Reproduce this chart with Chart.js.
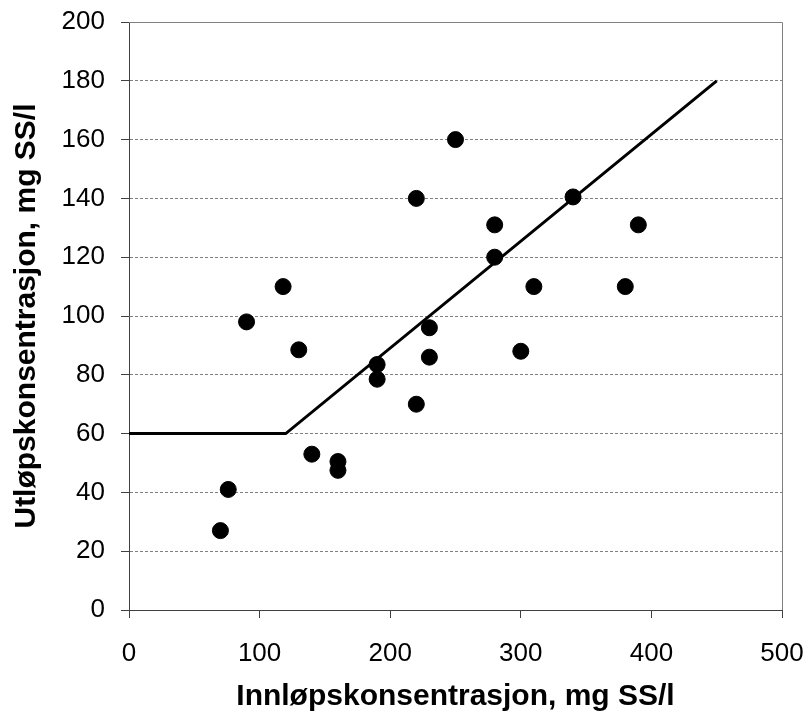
<!DOCTYPE html>
<html>
<head>
<meta charset="utf-8">
<script src="https://cdn.jsdelivr.net/npm/chart.js@4/dist/chart.umd.min.js"></script>
<style>
  body { margin: 0; background: #fff; }
  canvas { display: block; }
</style>
</head>
<body>
<canvas id="myScatter" width="810" height="719"></canvas>
<script>
// innløp (x) og utløp (y) konsentrasjon, mg SS/l
const inlet  = [70, 76, 90, 118, 130, 140, 160, 160, 190, 190, 220, 220, 230, 230, 250, 280, 280, 300, 310, 340, 380, 390];
const outlet = [27, 41, 98, 110, 88.5, 53, 50.5, 47.5, 83.5, 78.5, 70, 140, 96, 86, 160, 131, 120, 88, 110, 140.5, 110, 131];

// knekklinje
const lineX = [0, 120, 450];
const lineY = [60, 60, 180];

const xTicks = [0, 100, 200, 300, 400, 500];
const yTicks = [0, 20, 40, 60, 80, 100, 120, 140, 160, 180, 200];

document.addEventListener('DOMContentLoaded', function() {
    const canvas = document.getElementById('myScatter');
    if (!canvas) return;
    const ctx = canvas.getContext('2d');

    const pts = inlet.map((x, i) => ({ x: x, y: outlet[i] }));
    const linePts = lineX.map((x, i) => ({ x: x, y: lineY[i] }));

    // grå ramme oppe og til høyre
    const framePlugin = {
        id: 'frame',
        beforeDatasetsDraw(chart) {
            const a = chart.chartArea;
            const c = chart.ctx;
            c.save();
            c.strokeStyle = '#808080';
            c.lineWidth = 1;
            c.beginPath();
            c.moveTo(a.left, a.top + 0.5);
            c.lineTo(a.right + 0.5, a.top + 0.5);
            c.lineTo(a.right + 0.5, a.bottom);
            c.stroke();
            c.restore();
        }
    };

    const fam = 'Liberation Sans, Arial, sans-serif';

    new Chart(ctx, {
        type: 'scatter',
        data: {
            datasets: [{
                label: 'Målinger',
                data: pts,
                backgroundColor: '#000',
                borderColor: '#000',
                pointRadius: 8,
                pointHoverRadius: 8,
                showLine: false
            }, {
                label: 'Linje',
                data: linePts,
                showLine: true,
                borderColor: '#000',
                borderWidth: 3,
                pointRadius: 0,
                fill: false,
                tension: 0
            }]
        },
        options: {
            responsive: false,
            animation: false,
            devicePixelRatio: 1,
            layout: { padding: { left: 0, top: 22, right: 28, bottom: 0 } },
            plugins: {
                legend: { display: false },
                tooltip: { enabled: false }
            },
            scales: {
                x: {
                    type: 'linear',
                    min: 0,
                    max: 500,
                    afterFit: s => {
                        s.height = 109;
                        s.paddingLeft = 0;
                        s.paddingRight = 0;
                    },
                    afterBuildTicks: s => { s.ticks = xTicks.map(v => ({ value: v })); },
                    grid: {
                        drawOnChartArea: false,
                        drawTicks: true,
                        tickLength: 8,
                        tickColor: '#404040'
                    },
                    border: { display: true, color: '#404040', width: 1 },
                    ticks: {
                        color: '#000',
                        padding: 20,
                        maxRotation: 0,
                        font: { family: fam, size: 26 }
                    },
                    title: {
                        display: true,
                        text: 'Innløpskonsentrasjon, mg SS/l',
                        color: '#000',
                        padding: { top: 0, bottom: 4 },
                        font: { family: fam, size: 30, weight: 'bold' }
                    }
                },
                y: {
                    type: 'linear',
                    min: 0,
                    max: 200,
                    afterFit: s => {
                        s.width = 129;
                        s.paddingTop = 0;
                        s.paddingBottom = 0;
                    },
                    afterBuildTicks: s => { s.ticks = yTicks.map(v => ({ value: v })); },
                    grid: {
                        drawOnChartArea: true,
                        drawTicks: true,
                        tickLength: 8,
                        color: '#808080',
                        tickColor: '#404040'
                    },
                    border: { display: true, color: '#404040', width: 1, dash: [3, 2] },
                    ticks: {
                        color: '#000',
                        padding: 16,
                        font: { family: fam, size: 26 }
                    },
                    title: {
                        display: true,
                        text: 'Utløpskonsentrasjon, mg SS/l',
                        color: '#000',
                        padding: { top: 9, bottom: 0 },
                        font: { family: fam, size: 30, weight: 'bold' }
                    }
                }
            }
        },
        plugins: [framePlugin]
    });
});
</script>
</body>
</html>
